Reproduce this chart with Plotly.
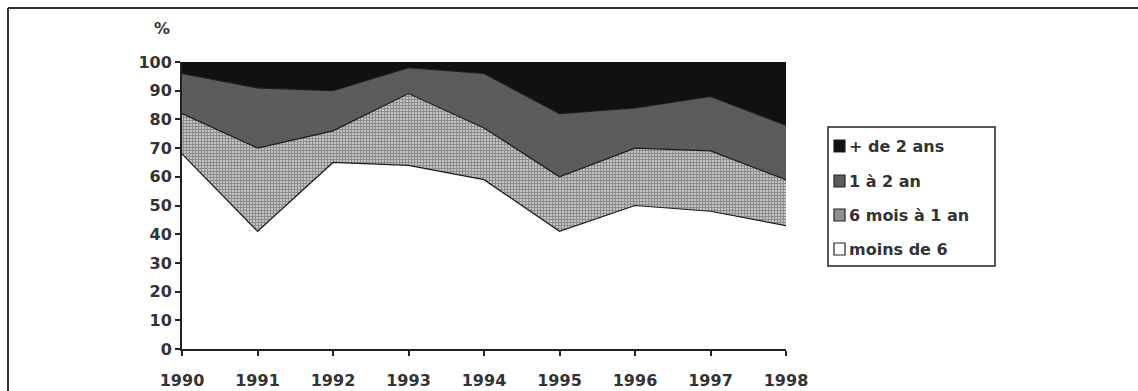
import plotly.graph_objects as go

# Durée de chômage : répartition en % (parts empilées jusqu'à 100)
years = [1990, 1991, 1992, 1993, 1994, 1995, 1996, 1997, 1998]
moins_de_6 = [68, 41, 65, 64, 59, 41, 50, 48, 43]
six_mois_1_an = [14, 29, 11, 25, 18, 19, 20, 21, 16]
un_a_2_ans = [14, 21, 14, 9, 19, 22, 14, 19, 19]
plus_de_2_ans = [4, 9, 10, 2, 4, 18, 16, 12, 22]

legend_labels = ["+ de 2 ans", "1 à 2 an", "6 mois à 1 an", "moins de 6"]
legend_colors = ["#111111", "#5c5c5c", "#8f8f8f", "#ffffff"]

FONT = "DejaVu Sans"
INK = "#333333"
EDGE = dict(color="#1a1a1a", width=1.2)

fig = go.Figure()

fig.add_trace(go.Scatter(
    x=years, y=moins_de_6, name="moins de 6", stackgroup="one",
    line=EDGE, fillcolor="#ffffff", mode="lines"))
fig.add_trace(go.Scatter(
    x=years, y=six_mois_1_an, name="6 mois à 1 an", stackgroup="one",
    line=EDGE, mode="lines",
    fillpattern=dict(shape="+", size=3, solidity=0.75,
                     fgcolor="#2a2a2a", bgcolor="#eeeeee")))
fig.add_trace(go.Scatter(
    x=years, y=un_a_2_ans, name="1 à 2 an", stackgroup="one",
    line=EDGE, fillcolor="#5c5c5c", mode="lines"))
fig.add_trace(go.Scatter(
    x=years, y=plus_de_2_ans, name="+ de 2 ans", stackgroup="one",
    line=dict(color="#111111", width=1), fillcolor="#111111", mode="lines"))

W, H = 1138, 391
L, R, T, B = 182, 352, 62, 42
pw, ph = W - L - R, H - T - B


def px_x(px):
    return (px - L) / pw


def px_y(py):
    return (H - B - py) / ph


shapes = [
    # cadre extérieur (bords gauche et haut)
    dict(type="line", xref="paper", yref="paper",
         x0=px_x(8), x1=px_x(W + 5), y0=px_y(8), y1=px_y(8),
         line=dict(color="#333333", width=2)),
    dict(type="line", xref="paper", yref="paper",
         x0=px_x(8), x1=px_x(8), y0=px_y(8), y1=px_y(H + 5),
         line=dict(color="#333333", width=2)),
    # cadre de la légende
    dict(type="rect", xref="paper", yref="paper",
         x0=px_x(828), x1=px_x(995), y0=px_y(127), y1=px_y(266),
         line=dict(color="#222222", width=1.5), fillcolor="white"),
]

annotations = [
    dict(text="%", xref="paper", yref="paper", x=px_x(162), y=px_y(28),
         showarrow=False, font=dict(family=FONT, size=16, color=INK, weight="bold"),
         xanchor="center", yanchor="middle"),
]

legend_rows = [146, 181, 215, 249]
for label, color, cy in zip(legend_labels, legend_colors, legend_rows):
    shapes.append(dict(type="rect", xref="paper", yref="paper",
                       x0=px_x(834), x1=px_x(845),
                       y0=px_y(cy - 6), y1=px_y(cy + 6),
                       line=dict(color="#222222", width=1.2),
                       fillcolor=color))
    annotations.append(dict(text=label, xref="paper", yref="paper",
                            x=px_x(847), y=px_y(cy), showarrow=False,
                            xanchor="left", yanchor="middle",
                            font=dict(family=FONT, size=16, color=INK,
                                      weight="bold")))

fig.update_layout(
    width=W, height=H,
    margin=dict(l=L, r=R, t=T, b=B),
    paper_bgcolor="white", plot_bgcolor="white",
    showlegend=False,
    font=dict(family=FONT, size=16, color=INK),
    shapes=shapes, annotations=annotations,
)

fig.update_xaxes(
    range=[1990, 1998], tickmode="array", tickvals=years,
    ticktext=[str(y) for y in years],
    showgrid=False, zeroline=False, automargin=False,
    showline=True, linecolor="#222222", linewidth=2,
    ticks="outside", ticklen=5, tickwidth=1.5, tickcolor="#222222",
    ticklabelstandoff=11,
    tickfont=dict(family=FONT, size=16, color=INK, weight="bold"),
)
fig.update_yaxes(
    range=[0, 100], tickmode="array", tickvals=list(range(0, 101, 10)),
    showgrid=False, zeroline=False, automargin=False,
    showline=True, linecolor="#222222", linewidth=2,
    ticks="outside", ticklen=5, tickwidth=1.5, tickcolor="#222222",
    tickfont=dict(family=FONT, size=16, color=INK, weight="bold"),
)

fig.write_html("out.html")
